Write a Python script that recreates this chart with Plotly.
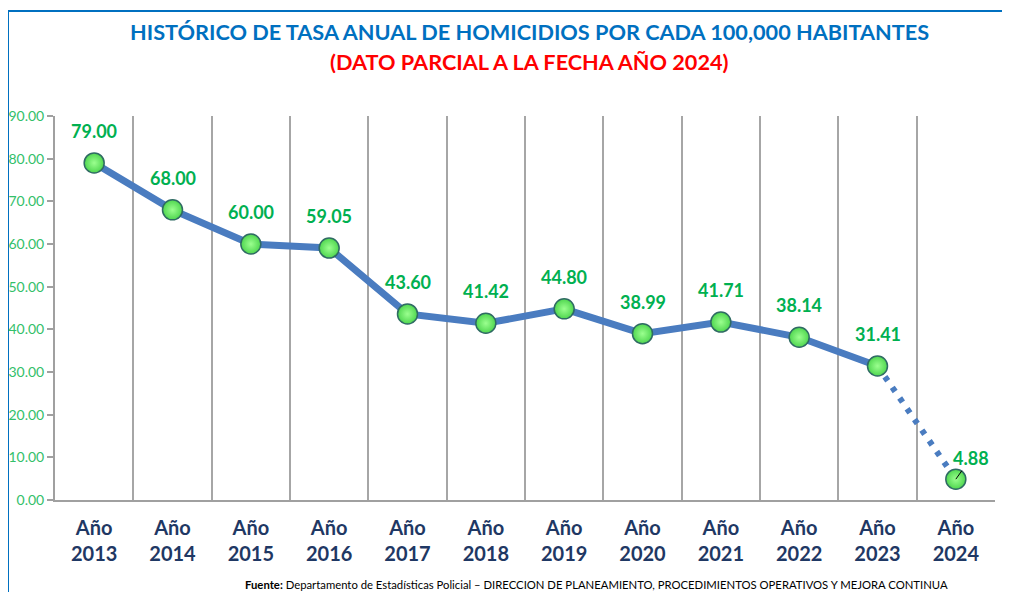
import plotly.graph_objects as go

years = ["2013", "2014", "2015", "2016", "2017", "2018", "2019", "2020", "2021", "2022", "2023", "2024"]
categories = ["Año<br>" + y for y in years]
rates = [79.00, 68.00, 60.00, 59.05, 43.60, 41.42, 44.80, 38.99, 41.71, 38.14, 31.41, 4.88]
y_ticks = [0, 10, 20, 30, 40, 50, 60, 70, 80, 90]

LINE_BLUE = "#4A7CC0"
GREEN_LABEL = "#00B050"
FONT = "Lato"

fig = go.Figure()

# solid line for complete years
fig.add_trace(go.Scatter(
    x=categories[:-1], y=rates[:-1], mode="lines",
    line=dict(color=LINE_BLUE, width=7), hoverinfo="skip", showlegend=False))
# dotted segment towards partial year
fig.add_trace(go.Scatter(
    x=categories[-2:], y=rates[-2:], mode="lines",
    line=dict(color=LINE_BLUE, width=6, dash="5px,8px"), hoverinfo="skip", showlegend=False))
# markers
fig.add_trace(go.Scatter(
    x=categories, y=rates, mode="markers",
    marker=dict(size=20, color="#4FD64F",
                gradient=dict(type="radial", color="#9BFF8F"),
                line=dict(color="#2F6B63", width=1.5)),
    showlegend=False))

annotations = []
for i, (c, v) in enumerate(zip(categories, rates)):
    if i < len(categories) - 1:
        annotations.append(dict(
            x=c, y=v, xref="x", yref="y", text=f"{v:.2f}", showarrow=False,
            yshift=32, font=dict(family=FONT, size=18, color=GREEN_LABEL, weight="bold")))
    else:
        annotations.append(dict(
            x=c, y=v, xref="x", yref="y", text=f"{v:.2f}", showarrow=True,
            arrowhead=0, arrowwidth=1, arrowcolor="#000000", ax=15, ay=-21,
            standoff=0,
            font=dict(family=FONT, size=18, color=GREEN_LABEL, weight="bold")))

annotations += [
    dict(text="HISTÓRICO DE TASA ANUAL DE HOMICIDIOS POR CADA 100,000 HABITANTES",
         xref="paper", yref="paper", x=0.505, y=1.21875, showarrow=False,
         xanchor="center", yanchor="middle",
         font=dict(family=FONT, size=21.7, color="#0070C0", weight="bold")),
    dict(text="(DATO PARCIAL A LA FECHA AÑO 2024)",
         xref="paper", yref="paper", x=0.505, y=1.1406, showarrow=False,
         xanchor="center", yanchor="middle",
         font=dict(family=FONT, size=21.7, color="#FF0000", weight="bold")),
    dict(text="<b>Fuente:</b> Departamento de Estadísticas Policial – DIRECCION DE PLANEAMIENTO, PROCEDIMIENTOS OPERATIVOS Y MEJORA CONTINUA",
         xref="paper", yref="paper", x=0.576, y=-0.221, showarrow=False,
         xanchor="center", yanchor="middle",
         font=dict(family=FONT, size=11.3, color="#000000")),
]

fig.update_layout(
    width=1002, height=584,
    margin=dict(l=47, r=15, t=108, b=92, autoexpand=False),
    paper_bgcolor="white", plot_bgcolor="white",
    annotations=annotations,
    shapes=[dict(type="rect", xref="paper", yref="paper",
                 x0=-0.05, x1=1.2, y0=-0.4, y1=1.2734,
                 line=dict(color="#0070C0", width=2), layer="below")],
    xaxis=dict(
        type="category", tickson="boundaries", showgrid=True,
        gridcolor="#A6A6A6", gridwidth=1.5,
        showline=True, linecolor="#A0A0A0", linewidth=2,
        ticks="", ticklabelstandoff=9, automargin=False,
        tickfont=dict(family=FONT, size=20, color="#1F3864", weight="bold"),
        range=[-0.5, 11.5], fixedrange=True),
    yaxis=dict(
        range=[0, 90], tickvals=y_ticks, tickformat=".2f",
        showgrid=False, zeroline=False, automargin=False,
        showline=True, linecolor="#A0A0A0", linewidth=2,
        ticks="outside", ticklen=6, tickcolor="#A0A0A0", tickwidth=2,
        tickfont=dict(family=FONT, size=14, color="#33C06A")),
)

fig.write_html("out.html")
